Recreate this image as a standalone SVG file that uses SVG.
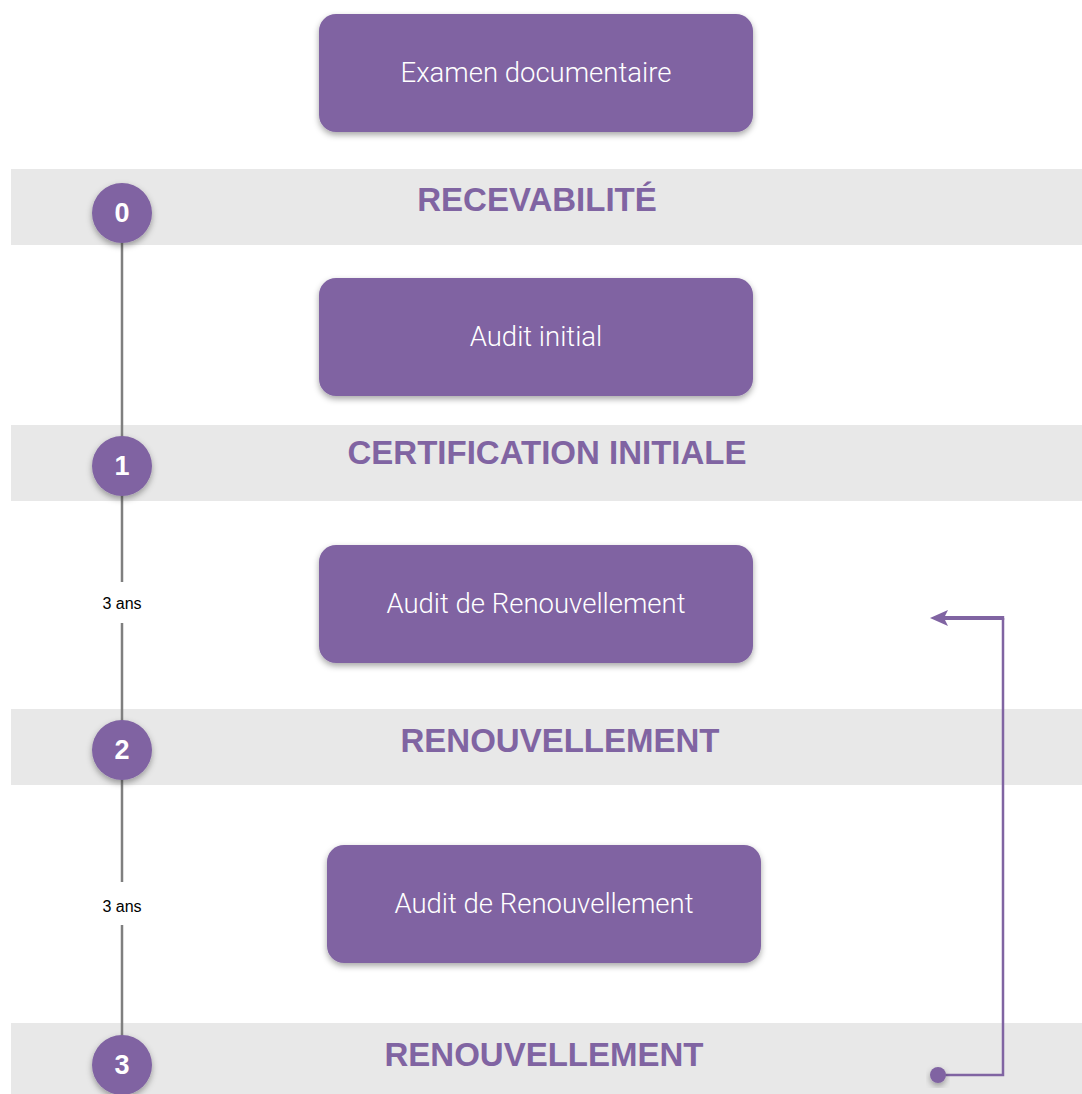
<svg xmlns="http://www.w3.org/2000/svg" width="1082" height="1094" viewBox="0 0 1082 1094">
<defs>
<filter id="sh" x="-20%" y="-20%" width="140%" height="150%">
<feDropShadow dx="0" dy="3" stdDeviation="3" flood-color="#000" flood-opacity="0.35"/>
</filter>
<style>
.box{fill:#8064A2;filter:url(#sh)}
.bt{font-family:Roboto,"Liberation Sans",sans-serif;font-weight:300;font-size:27.5px;fill:#fff;text-anchor:middle}
.band{fill:#E8E8E8}
.title{font-family:"Liberation Sans",Arial,sans-serif;font-weight:bold;font-size:33px;fill:#8064A2;text-anchor:middle}
.circ{fill:#8064A2;filter:url(#sh)}
.num{font-family:"Liberation Sans",Arial,sans-serif;font-weight:bold;font-size:27px;fill:#fff;text-anchor:middle}
.tl{stroke:#7F7F7F;stroke-width:2.5;fill:none}
.lbl{font-family:"Liberation Sans",Arial,sans-serif;font-size:16px;fill:#000;text-anchor:middle}
</style>
</defs>
<rect width="1082" height="1094" fill="#fff"/>
<g id="bands">
<rect class="band" x="11" y="169" width="1071" height="76"/>
<rect class="band" x="11" y="425" width="1071" height="76"/>
<rect class="band" x="11" y="709" width="1071" height="76"/>
<rect class="band" x="11" y="1023" width="1071" height="71"/>
</g>
<g id="connectors">
<path class="tl" d="M122,213 V582"/>
<path class="tl" d="M122,623 V882"/>
<path class="tl" d="M122,925 V1065"/>
<text class="lbl" x="122" y="609">3 ans</text>
<text class="lbl" x="122" y="912">3 ans</text>
<path d="M938,1075 H1003 V618" stroke="#8064A2" stroke-width="2.5" fill="none"/>
<path d="M1004.2,618 H944" stroke="#8064A2" stroke-width="4" fill="none"/>
<path d="M930,618 L948,610 L944,618 L948,626 Z" fill="#8064A2"/>
<circle cx="938" cy="1075" r="8" fill="#8064A2" filter="url(#sh)"/>
</g>
<g id="node-examen">
<rect class="box" x="319" y="14" width="434" height="118" rx="17"/>
<text class="bt" x="536" y="82">Examen documentaire</text>
</g>
<g id="node-recevabilite">
<text class="title" x="537" y="211">RECEVABILITÉ</text>
<circle class="circ" cx="122" cy="213" r="30"/>
<text class="num" x="122" y="222">0</text>
</g>
<g id="node-audit-initial">
<rect class="box" x="319" y="278" width="434" height="118" rx="17"/>
<text class="bt" x="536" y="346">Audit initial</text>
</g>
<g id="node-certification">
<text class="title" x="547" y="464">CERTIFICATION INITIALE</text>
<circle class="circ" cx="122" cy="466" r="30"/>
<text class="num" x="122" y="475">1</text>
</g>
<g id="node-audit-renouv-1">
<rect class="box" x="319" y="545" width="434" height="118" rx="17"/>
<text class="bt" x="536" y="613">Audit de Renouvellement</text>
</g>
<g id="node-renouv-1">
<text class="title" x="560" y="752">RENOUVELLEMENT</text>
<circle class="circ" cx="122" cy="750" r="30"/>
<text class="num" x="122" y="759">2</text>
</g>
<g id="node-audit-renouv-2">
<rect class="box" x="327" y="845" width="434" height="118" rx="17"/>
<text class="bt" x="544" y="913">Audit de Renouvellement</text>
</g>
<g id="node-renouv-2">
<text class="title" x="544" y="1066">RENOUVELLEMENT</text>
<circle class="circ" cx="122" cy="1065" r="30"/>
<text class="num" x="122" y="1074">3</text>
</g>
</svg>
